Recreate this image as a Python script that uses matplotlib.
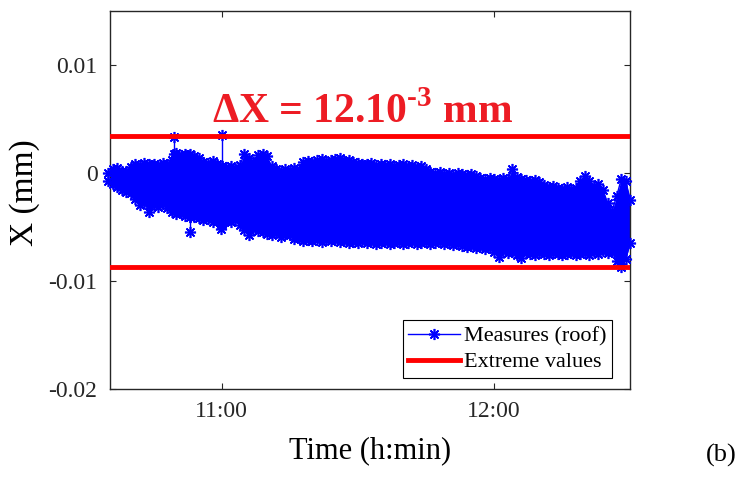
import matplotlib
matplotlib.use("Agg")
import matplotlib.pyplot as plt
from matplotlib.lines import Line2D
from matplotlib.ticker import FuncFormatter
import numpy as np

plt.rcParams["font.family"] = ["Liberation Serif", "DejaVu Serif"]
plt.rcParams["mathtext.fontset"] = "custom"
plt.rcParams["mathtext.rm"] = "Liberation Serif:bold"
plt.rcParams["mathtext.bf"] = "Liberation Serif:bold"

# time in minutes after midnight, one sample per minute (10:35 -> 12:30)
t_min = np.arange(635, 751)

# upper / lower envelope of the roof measures (1e-3 mm)
x_upper = [
    0.0, 0.3, 0.4, 0.2, 0.2,
    0.5, 0.8, 0.7, 0.9, 0.8,
    0.8, 0.7, 0.9, 0.8, 1.2,
    1.8, 1.6, 1.7, 1.7, 1.5,
    1.4, 1.0, 0.9, 1.1, 0.8,
    0.6, 0.5, 0.6, 0.4, 0.7,
    1.7, 1.4, 1.0, 1.6, 1.7,
    1.5, 0.6, 0.3, 0.2, 0.3,
    0.2, 0.4, 0.3, 1.0, 1.1,
    1.0, 1.2, 1.3, 1.0, 1.2,
    1.3, 1.4, 1.1, 1.2, 1.0,
    0.9, 0.8, 0.8, 0.9, 0.7,
    0.8, 0.7, 0.8, 0.6, 0.7,
    0.8, 0.6, 0.7, 0.5, 0.6,
    0.3, 0.1, 0.0, 0.1, -0.1,
    0.0, -0.2, 0.0, -0.1, -0.2,
    -0.1, -0.3, -0.5, -0.6, -0.5,
    -0.6, -0.7, -0.5, -0.6, 0.3,
    -0.4, -0.6, -0.7, -0.8, -0.7,
    -0.9, -1.1, -1.3, -1.2, -1.4,
    -1.5, -1.3, -1.6, -1.4, -0.8,
    -0.3, -0.8, -1.3, -1.0, -1.6,
    -2.8, -3.5, -2.2, -0.6, -0.8,
    -2.5,
]
x_lower = [
    -0.8, -1.0, -1.3, -1.6, -1.8,
    -1.9, -2.4, -3.0, -2.8, -3.6,
    -3.0, -3.2, -2.9, -3.3, -3.6,
    -3.8, -3.7, -4.0, -4.1, -4.1,
    -4.2, -4.4, -4.3, -4.6, -4.5,
    -4.7, -4.5, -4.6, -4.4, -4.8,
    -5.3, -5.8, -5.2, -5.4, -5.5,
    -5.7, -5.8, -5.6, -5.9, -5.7,
    -5.8, -6.1, -6.0, -6.3, -6.2,
    -6.3, -6.2, -6.4, -6.1, -6.3,
    -6.2, -6.4, -6.3, -6.5, -6.4,
    -6.5, -6.3, -6.5, -6.4, -6.6,
    -6.5, -6.4, -6.6, -6.5, -6.4,
    -6.6, -6.5, -6.4, -6.6, -6.5,
    -6.4, -6.6, -6.5, -6.4, -6.6,
    -6.5, -6.7, -6.6, -6.8, -6.9,
    -6.8, -7.0, -6.9, -7.1, -7.0,
    -7.3, -7.8, -7.2, -7.4, -7.3,
    -7.6, -7.9, -7.4, -7.5, -7.6,
    -7.4, -7.5, -7.6, -7.4, -7.5,
    -7.6, -7.5, -7.4, -7.6, -7.5,
    -7.4, -7.6, -7.3, -7.5, -7.2,
    -7.4, -7.3, -8.2, -8.7, -8.0,
    -6.5,
]

# isolated outliers (time, base, tip) in 1e-3 mm
spike_t = [649.5, 660.0, 653.0, 659.8]
spike_base = [1.7, 0.6, -4.1, -4.7]
spike_tip = [3.3, 3.5, -5.5, -5.2]

# extreme values (mm)
x_max = 0.0034
x_min = -0.0087

blue = (0, 0, 1)
red = (1, 0, 0)
dark = "#262626"
asterisk = (8, 2, 0)

t = np.asarray(t_min, dtype=float)
up = np.asarray(x_upper) * 1e-3
lo = np.asarray(x_lower) * 1e-3

fig = plt.figure(figsize=(7.38, 4.79), dpi=100)
ax = fig.add_axes([0.149, 0.188, 0.705, 0.790])

ax.fill_between(t, lo, up, color=blue, lw=0, zorder=2)
for yy in (up, lo):
    ax.plot(t, yy, ls="-", lw=1, color=blue, marker=asterisk, ms=8, mew=1.2,
            mec=blue, clip_on=False, zorder=3)
for ts, b, tip in zip(spike_t, spike_base, spike_tip):
    ax.plot([ts, ts], [b * 1e-3, tip * 1e-3], color=blue, lw=1,
            marker=asterisk, ms=8, mew=1.2, zorder=3)

ax.axhline(x_max, color=red, lw=3.5, zorder=4)
ax.axhline(x_min, color=red, lw=3.5, zorder=4)

ax.text(657.9, 0.0046, r"ΔX = 12.10$^{\text{-3}}$ mm", color=(0.93, 0.11, 0.14),
        fontsize=30, fontweight="bold", ha="left", va="baseline")

ax.set_xlim(635.4, 750)
ax.set_ylim(-0.02, 0.015)
ax.set_xticks([660, 720])
ax.xaxis.set_major_formatter(FuncFormatter(lambda m, _: f"{int(m // 60)}:{int(m % 60):02d}"))
ax.set_yticks([0.01, 0, -0.01, -0.02])
ax.set_yticklabels(["0.01", "0", "-0.01", "-0.02"])

ax.tick_params(direction="in", length=4, width=0.8, colors=dark,
               labelsize=17, top=True, right=True, pad=9)
for s in ax.spines.values():
    s.set_color(dark)
    s.set_linewidth(1.0)

ax.set_xlabel("Time (h:min)", fontsize=22, color="black", labelpad=10)
ax.set_ylabel("X (mm)", fontsize=24, color="black")
ax.yaxis.set_label_coords(-0.135, 0.52)

handles = [
    Line2D([], [], color=blue, lw=1, marker=asterisk, ms=8, mew=1.2),
    Line2D([], [], color=red, lw=3.5),
]
leg = ax.legend(handles, ["Measures (roof)", "Extreme values"], loc="lower right",
                fontsize=16, numpoints=1, fancybox=False, framealpha=1,
                edgecolor="black", borderpad=0.25, labelspacing=0.25,
                handlelength=2.3, handletextpad=0.2, borderaxespad=0,
                bbox_to_anchor=(0.965, 0.029))
leg.get_frame().set_linewidth(0.8)

fig.text(0.998, 0.036, "(b)", fontsize=19, ha="right", va="baseline")

fig.savefig("out.png", dpi=100)
